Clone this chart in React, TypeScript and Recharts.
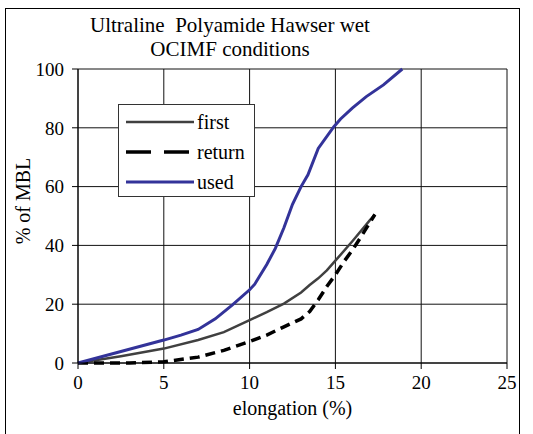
import React from "react";
import { CartesianGrid, Line, LineChart, XAxis, YAxis } from "recharts";

// elongation (%) vs % of MBL
const firstData = [
  { x: 0, y: 0 }, { x: 2.5, y: 2.3 }, { x: 5, y: 4.9 }, { x: 7, y: 7.8 },
  { x: 8.5, y: 10.5 }, { x: 10, y: 14.6 }, { x: 11, y: 17.3 }, { x: 12, y: 20.2 },
  { x: 13, y: 24 }, { x: 13.5, y: 26.5 }, { x: 14, y: 28.8 }, { x: 14.5, y: 31.5 },
  { x: 15, y: 34.8 }, { x: 16, y: 41.5 }, { x: 17, y: 48.5 }, { x: 17.3, y: 50.5 },
];

const returnData = [
  { x: 0, y: 0 }, { x: 3, y: 0 }, { x: 5, y: 0.4 }, { x: 7, y: 2 },
  { x: 8.5, y: 4.3 }, { x: 10, y: 7.3 }, { x: 11, y: 9.5 }, { x: 12, y: 12.3 },
  { x: 13, y: 15 }, { x: 13.5, y: 17.5 }, { x: 14, y: 21.5 }, { x: 14.5, y: 26 },
  { x: 15, y: 30 }, { x: 15.5, y: 34.5 }, { x: 16, y: 38.5 }, { x: 16.5, y: 43 },
  { x: 17.3, y: 50.5 },
];

const usedData = [
  { x: 0, y: 0 }, { x: 2.5, y: 3.9 }, { x: 5, y: 7.8 }, { x: 6, y: 9.5 },
  { x: 7, y: 11.4 }, { x: 8, y: 15 }, { x: 9, y: 19.8 }, { x: 10, y: 24.9 },
  { x: 10.3, y: 26.8 }, { x: 11, y: 33.5 }, { x: 11.5, y: 39 }, { x: 12, y: 46 },
  { x: 12.5, y: 54 }, { x: 13, y: 60 }, { x: 13.4, y: 64 }, { x: 14, y: 73 },
  { x: 14.9, y: 80.3 }, { x: 15.3, y: 83 }, { x: 16, y: 86.8 }, { x: 16.8, y: 90.6 },
  { x: 17.8, y: 94.6 }, { x: 18.9, y: 100 },
];

const xTicks = [0, 5, 10, 15, 20, 25];
const yTicks = [0, 20, 40, 60, 80, 100];

const series = [
  { name: "first", data: firstData, color: "#404040", width: 2.5, dash: undefined },
  { name: "return", data: returnData, color: "#000000", width: 3.5, dash: "10 6" },
  { name: "used", data: usedData, color: "#333399", width: 3, dash: undefined },
];

// no serif face in the sandbox, so this falls through to Liberation Sans
const font = "Liberation Serif, Times New Roman, Liberation Sans, sans-serif";
const tickStyle = { fill: "#000", fontSize: 19, fontFamily: font };

function LegendBox() {
  return (
    <div
      style={{
        position: "absolute",
        left: 118,
        top: 104,
        width: 137,
        height: 93,
        boxSizing: "border-box",
        border: "1px solid #333",
        background: "#fff",
        fontFamily: font,
        fontSize: 20,
        color: "#000",
        padding: "2px 0 0 7px",
      }}
    >
      {series.map((s) => (
        <div key={s.name} style={{ display: "flex", alignItems: "center", height: 30 }}>
          <svg width={68} height={10} style={{ flex: "none" }}>
            <line
              x1={0}
              y1={5}
              x2={68}
              y2={5}
              stroke={s.color}
              strokeWidth={s.width}
              strokeDasharray={s.dash ? "25 13" : undefined}
            />
          </svg>
          <span style={{ marginLeft: 3, lineHeight: "20px" }}>{s.name}</span>
        </div>
      ))}
    </div>
  );
}

export default function App() {
  return (
    <div
      style={{
        position: "absolute",
        left: 0,
        top: 0,
        width: 533,
        height: 434,
        background: "#fff",
        overflow: "hidden",
        fontFamily: font,
      }}
    >
      <div
        style={{
          position: "absolute",
          left: 5,
          top: 8,
          width: 515,
          height: 440,
          border: "1.5px solid #000",
          boxSizing: "border-box",
        }}
      />
      <div
        style={{
          position: "absolute",
          left: 0,
          width: 460,
          top: 13,
          textAlign: "center",
          fontSize: 21,
          lineHeight: "24px",
          whiteSpace: "pre",
        }}
      >
        {"Ultraline  Polyamide Hawser wet\nOCIMF conditions"}
      </div>
      <LineChart
        width={533}
        height={434}
        margin={{ top: 69, right: 26, bottom: 41, left: 38 }}
        style={{ position: "absolute", left: 0, top: 0, fontFamily: font }}
      >
        <CartesianGrid stroke="#111" strokeWidth={1} horizontalValues={yTicks} verticalValues={xTicks} />
        <XAxis
          type="number"
          dataKey="x"
          domain={[0, 25]}
          ticks={xTicks}
          stroke="#000"
          tickSize={6}
          tickMargin={7}
          tick={tickStyle}
          height={30}
          label={{
            value: "elongation (%)",
            position: "bottom",
            offset: 8,
            fill: "#000",
            fontSize: 20,
            fontFamily: font,
          }}
        />
        <YAxis
          type="number"
          dataKey="y"
          domain={[0, 100]}
          ticks={yTicks}
          stroke="#000"
          tickSize={6}
          tickMargin={8}
          width={40}
          tick={tickStyle}
          label={{
            value: "% of MBL",
            angle: -90,
            position: "center",
            dx: -35,
            dy: -15,
            fill: "#000",
            fontSize: 20,
            fontFamily: font,
          }}
        />
        {series.map((s) => (
          <Line
            key={s.name}
            name={s.name}
            data={s.data}
            dataKey="y"
            type="linear"
            stroke={s.color}
            strokeWidth={s.width}
            strokeDasharray={s.dash}
            dot={false}
            isAnimationActive={false}
          />
        ))}
      </LineChart>
      <LegendBox />
    </div>
  );
}
